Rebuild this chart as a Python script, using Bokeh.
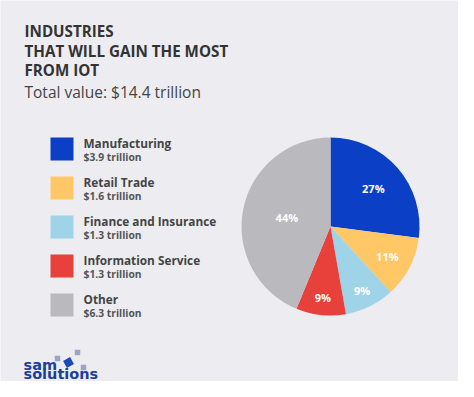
import numpy as np
from bokeh.plotting import figure
from bokeh.models import Range1d, ColumnDataSource
from bokeh.core.properties import value
from bokeh.embed import file_html
from bokeh.resources import INLINE

# ---- data ----
categories = ["Manufacturing", "Retail Trade", "Finance and Insurance", "Information Service", "Other"]
values_tn = [3.9, 1.6, 1.3, 1.3, 6.3]
value_labels = ["$3.9 trillion", "$1.6 trillion", "$1.3 trillion", "$1.3 trillion", "$6.3 trillion"]
pct_labels = ["27%", "11%", "9%", "9%", "44%"]
colors = ["#0a3fc6", "#ffc766", "#9fd3e8", "#e8403b", "#bababe"]
title_lines = ["INDUSTRIES", "THAT WILL GAIN THE MOST", "FROM IOT"]
subtitle = "Total value: $14.4 trillion"

BG = "#ededf1"
W, H = 458, 381

p = figure(width=W, height=H, output_backend="svg", toolbar_location=None,
           x_range=Range1d(0, W), y_range=Range1d(0, H), min_border=0)
p.axis.visible = False
p.grid.visible = False
p.outline_line_color = None
p.background_fill_color = BG
p.border_fill_color = BG

def Y(py):
    return H - py

# ---- title ----
p.text(x=[24] * 3, y=[Y(30), Y(50), Y(69)], text=title_lines, text_font=value("Open Sans"),
       text_font_style="bold", text_font_size="15.2px", text_color="#333333",
       text_baseline="middle", text_align="left")
p.text(x=[24], y=[Y(91)], text=[subtitle], text_font=value("Open Sans"),
       text_font_size="15.5px", text_color="#444444", text_baseline="middle", text_align="left")

# ---- legend ----
n = len(categories)
row_top = [137 + 39 * i for i in range(n)]
p.rect(x=[61.5] * n, y=[Y(t + 11.5) for t in row_top], width=23, height=23,
       fill_color=colors, line_color=None)
p.text(x=[83] * n, y=[Y(t + 5) for t in row_top], text=categories, text_font=value("Open Sans"),
       text_font_style="bold", text_font_size="11.8px", text_color="#444444",
       text_baseline="middle", text_align="left")
p.text(x=[83] * n, y=[Y(t + 19) for t in row_top], text=value_labels, text_font=value("Open Sans"),
       text_font_style="bold", text_font_size="10.3px", text_color="#555555",
       text_baseline="middle", text_align="left")

# ---- pie ----
cx, cy, R = 330, Y(226), 89
vals = np.array(values_tn)
frac = vals / vals.sum()
cum = np.concatenate([[0], np.cumsum(frac)])
start = np.pi / 2 - cum[:-1] * 2 * np.pi
end = np.pi / 2 - cum[1:] * 2 * np.pi
src = ColumnDataSource(dict(start=start, end=end, color=colors))
p.wedge(x=cx, y=cy, radius=R, start_angle="start", end_angle="end", direction="clock",
        fill_color="color", line_color=None, source=src)

mid = (start + end) / 2
rf = np.array([0.64, 0.72, 0.8, 0.8, 0.5])
lx = cx + R * rf * np.cos(mid)
ly = cy + R * rf * np.sin(mid)
p.text(x=lx, y=ly, text=pct_labels, text_font=value("Open Sans"), text_font_style="bold",
       text_font_size="11px", text_color="#ffffff", text_align="center", text_baseline="middle")

# ---- logo ----
p.rect(x=[57, 77, 83], y=[Y(358), Y(352), Y(367)], width=5.5, height=5.5,
       fill_color="#9aa5c4", line_color=None)
p.rect(x=[68], y=[Y(362)], width=8, height=8, angle=0.5, fill_color="#1b49b8", line_color=None)
p.text(x=[23, 23], y=[Y(364), Y(373.5)], text=["sam", "solutions"], text_font=value("DejaVu Sans"),
       text_font_style="bold", text_font_size="14.5px", text_color="#1d3f9c",
       text_baseline="middle", text_align="left")

open("out.html", "w").write(file_html(p, INLINE))
